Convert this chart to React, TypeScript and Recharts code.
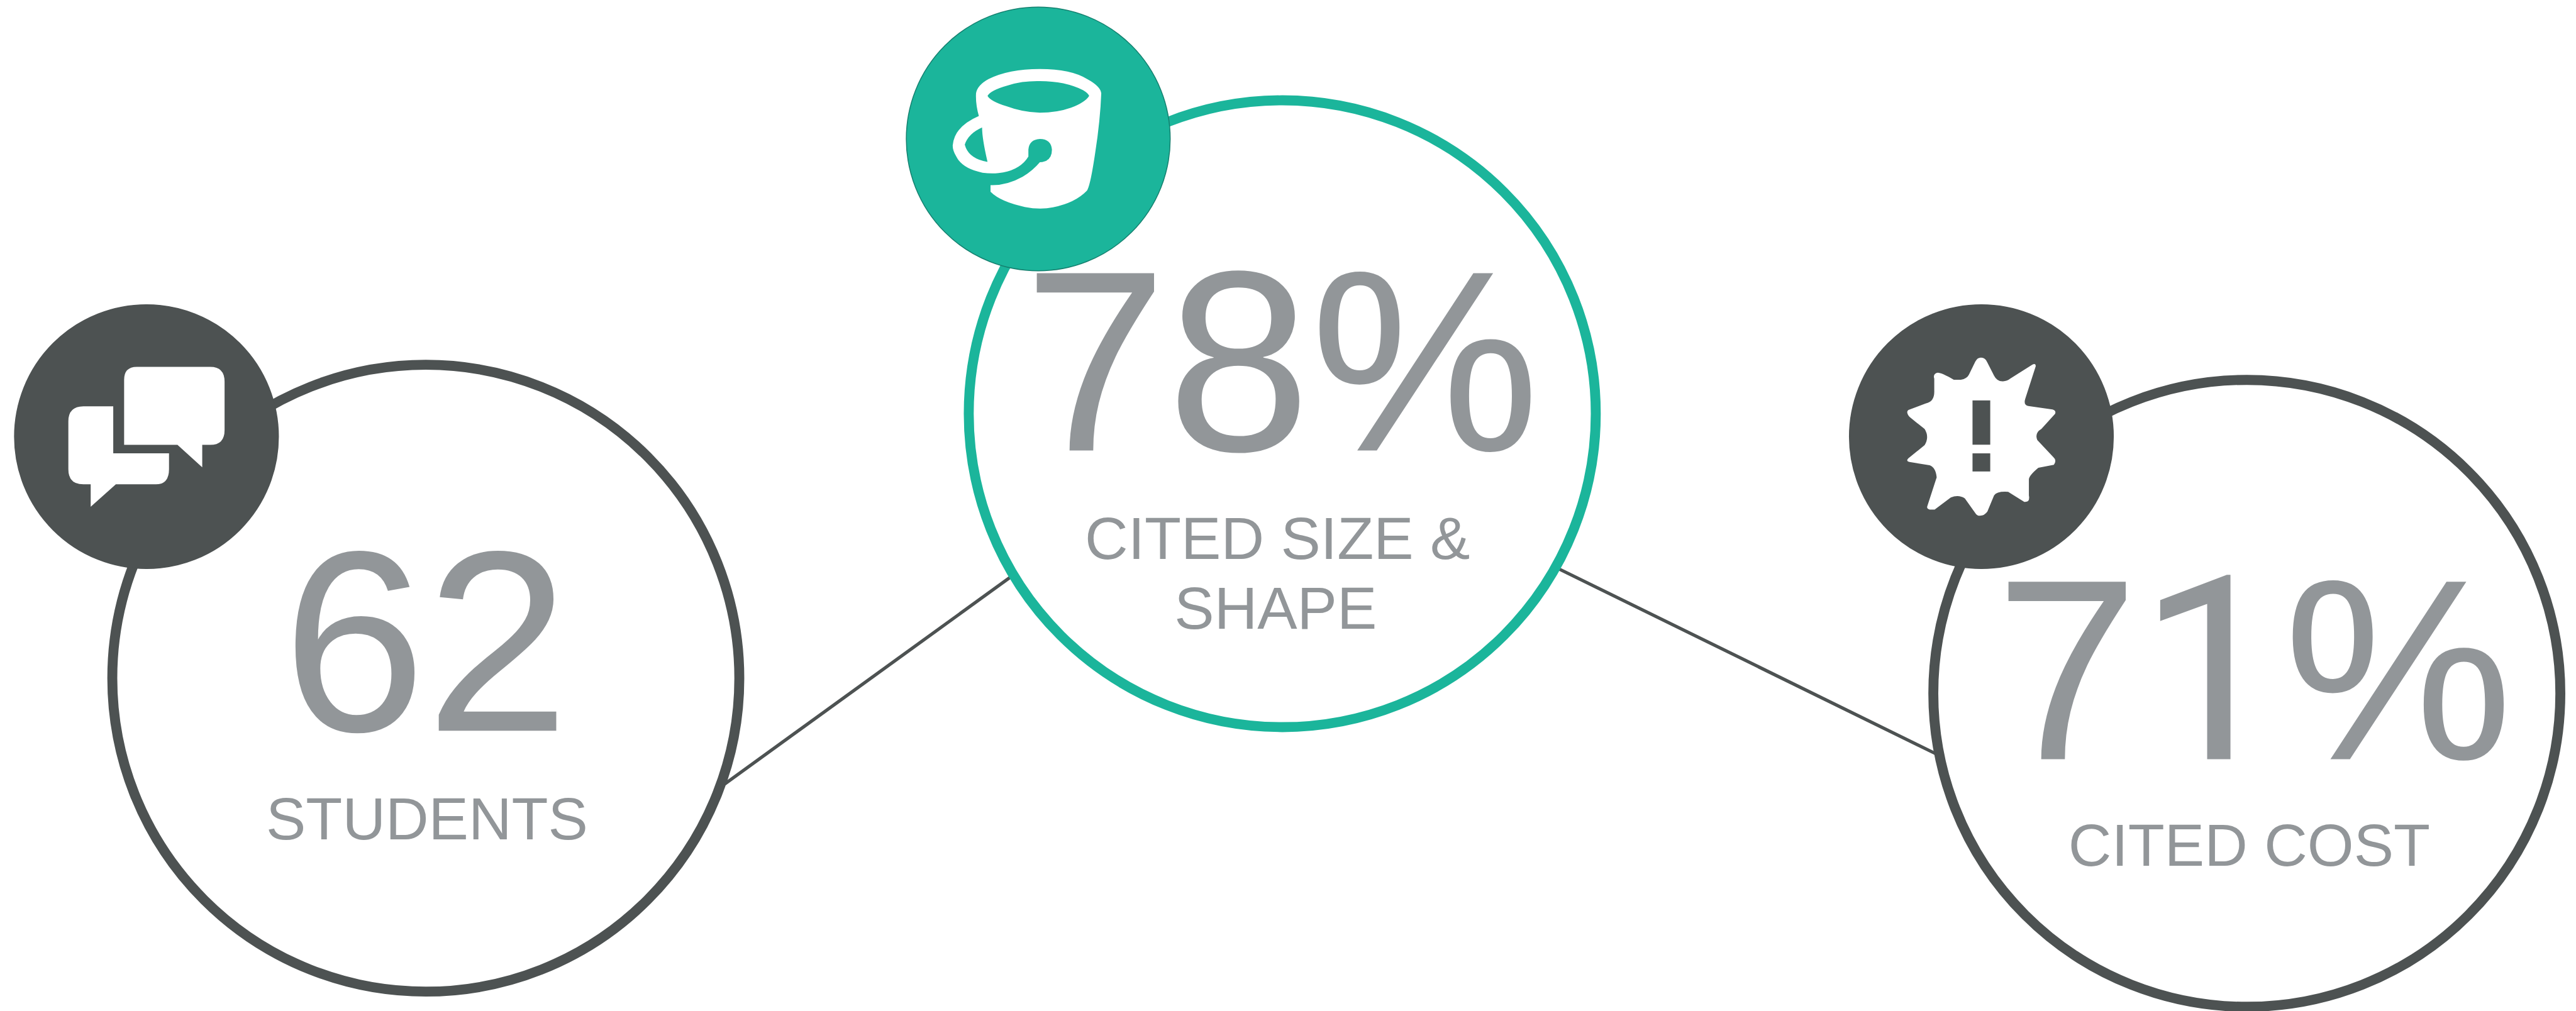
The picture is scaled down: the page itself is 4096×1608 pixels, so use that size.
import { Scatter, ScatterChart, XAxis, YAxis, ZAxis } from "recharts";

const CHART_W = 4096;
const CHART_H = 1608;
const DOMAIN_W = 4265;
const DOMAIN_H = 1674;
const UNIT = CHART_W / DOMAIN_W;

const TEAL = "#1bb59b";
const TEAL_EDGE = "#14806f";
const SLATE = "#4d5252";
const GREY = "#929699";

// the three survey stats
const statValues = [62, 78, 71];
const statUnits = ["", "%", "%"];
const ringColors = [SLATE, TEAL, SLATE];

// bubble centres, in domain units
const ringX = [705, 2123, 3720];
const ringY = [1123, 685, 1148];
const badgeX = [242.5, 1719, 3280.5];
const badgeY = [723, 230, 723];
const badgeIcons = ["chat", "bucket", "burst"];
const badgeColors = [SLATE, TEAL, SLATE];

const statX = [705, 2122, 3732];
const statBaseline = [1210, 746, 1257];

const captions = ["STUDENTS", "CITED SIZE &", "SHAPE", "CITED COST"];
const captionX = [707, 2115, 2112, 3724];
const captionBaseline = [1390, 926, 1041, 1433];

// connector ends sit under the rings
const linkA = { x: [1200, 1678], y: [1298, 952] };
const linkB = { x: [2575, 3207], y: [939, 1249] };

const toPoints = (xs: number[], ys: number[]) => xs.map((x, i) => ({ x, y: ys[i], i }));
const ringData = toPoints(ringX, ringY).map((d) => ({ ...d, z: 1 }));
const badgeData = toPoints(badgeX, badgeY).map((d) => ({ ...d, z: 1 }));
const statData = toPoints(statX, statBaseline);
const captionData = toPoints(captionX, captionBaseline);

const FONT = '"Liberation Sans", Arial, sans-serif';
// flagged "1" with no foot
const ONE_FONT = "Roboto, sans-serif";

function Ring(props: any) {
  const { cx, cy, width, payload } = props;
  return <circle cx={cx} cy={cy} r={width / 2} fill="#fff" stroke={ringColors[payload.i]} strokeWidth={15.8} />;
}

function ChatIcon() {
  return (
    <g transform="translate(-728 -698)" fill="#fff">
      <path d="M680 351H1045Q1116 351 1116 425V665Q1116 739 1045 739H1005V850L882 739H617V415Q617 351 680 351Z" />
      <path d="M415 547H563V781H840V860Q840 935 775 935H576L451 1046V935H415Q340 935 340 860V622Q340 547 415 547Z" />
    </g>
  );
}

function BucketIcon() {
  return (
    <g transform="translate(-717 -692)">
      <path
        fill="#fff"
        fillRule="evenodd"
        d="M408 465Q415 425 470 395Q570 345 725 345Q880 345 960 395Q1025 430 1030 465Q1025 600 1000 760Q975 930 958 950Q900 1010 790 1032Q725 1045 650 1030Q530 1005 480 955V922Q560 925 640 880Q690 850 725 808Q785 805 785 745Q780 692 725 692Q672 695 668 745V780Q625 850 520 862Q480 866 440 860Q340 840 310 780Q292 750 292 725Q300 630 422 578Q405 520 408 465Z
           M438 635Q370 665 352 720Q370 790 465 806Q438 690 438 635Z
           M465 478Q480 450 570 425Q640 403 725 405Q850 405 940 450Q965 465 970 478Q950 510 880 537Q810 562 725 562Q640 560 560 530Q480 505 465 478Z"
      />
    </g>
  );
}

function BurstIcon() {
  return (
    <g transform="translate(-722 -698)">
      <path
        fill="#fff"
        d="M720 305Q742 305 752 330L785 395Q800 425 830 423Q850 422 865 410L975 340Q992 332 992 348L940 510Q930 540 955 546L1075 563Q1095 568 1088 585L1020 660Q985 680 1000 715L1080 800Q1098 815 1082 838L1005 853Q960 890 958 910V990Q965 1025 935 1022L855 972Q800 968 785 990L752 1070Q735 1095 705 1090Q695 1085 690 1075L640 1005Q610 985 570 1000L490 1060H465Q450 1058 453 1045L500 900Q495 850 465 840L365 824Q345 818 360 805L440 740Q465 700 440 660L365 600Q345 575 360 565L445 533Q490 525 488 470V410Q480 385 505 380Q525 380 585 415H620Q650 410 660 390L692 325Q702 305 720 305Z"
      />
      <rect x={678} y={518} width={88} height={220} fill={SLATE} />
      <rect x={678} y={781} width={88} height={90} fill={SLATE} />
    </g>
  );
}

function Badge(props: any) {
  const { cx, cy, width, payload } = props;
  const icon = badgeIcons[payload.i];
  const fill = badgeColors[payload.i];
  return (
    <g>
      <circle cx={cx} cy={cy} r={width / 2} fill={fill} stroke={fill === TEAL ? TEAL_EDGE : fill} strokeWidth={1.5} />
      {/* icons are drawn at three times domain size */}
      <g transform={`translate(${cx} ${cy}) scale(${UNIT / 3})`}>
        {icon === "chat" && <ChatIcon />}
        {icon === "bucket" && <BucketIcon />}
        {icon === "burst" && <BurstIcon />}
      </g>
    </g>
  );
}

function StatText(props: any) {
  const { cx, cy, payload } = props;
  const chars = `${statValues[payload.i]}${statUnits[payload.i]}`.split("");
  return (
    <text x={cx} y={cy} textAnchor="middle" fontFamily={FONT} fontSize={410} fill={GREY}>
      {chars.map((c, i) => (
        <tspan key={i} fontFamily={c === "1" ? ONE_FONT : FONT}>
          {c}
        </tspan>
      ))}
    </text>
  );
}

function CaptionText(props: any) {
  const { cx, cy, payload } = props;
  return (
    <text x={cx} y={cy} textAnchor="middle" fontFamily={FONT} fontSize={95} fill={GREY}>
      {captions[payload.i]}
    </text>
  );
}

const Nothing = () => <g />;

export default function App() {
  return (
    <div style={{ position: "absolute", left: 0, top: 0, width: CHART_W, height: CHART_H, overflow: "hidden", background: "#fff" }}>
      <ScatterChart width={CHART_W} height={CHART_H} margin={{ top: 0, right: 0, bottom: 0, left: 0 }}>
        <XAxis type="number" dataKey="x" domain={[0, DOMAIN_W]} hide />
        <YAxis type="number" dataKey="y" domain={[0, DOMAIN_H]} reversed hide />
        <ZAxis zAxisId="ring" type="number" dataKey="z" range={[Math.PI * 498.5 * 498.5, Math.PI * 498.5 * 498.5]} />
        <ZAxis zAxisId="badge" type="number" dataKey="z" range={[Math.PI * 209.8 * 209.8, Math.PI * 209.8 * 209.8]} />

        <Scatter
          data={toPoints(linkA.x, linkA.y)}
          line={{ stroke: SLATE, strokeWidth: 5.2 }}
          shape={Nothing}
          isAnimationActive={false}
        />
        <Scatter
          data={toPoints(linkB.x, linkB.y)}
          line={{ stroke: SLATE, strokeWidth: 5.2 }}
          shape={Nothing}
          isAnimationActive={false}
        />
        <Scatter data={ringData} zAxisId="ring" shape={Ring} isAnimationActive={false} />
        <Scatter data={badgeData} zAxisId="badge" shape={Badge} isAnimationActive={false} />
        <Scatter data={statData} shape={StatText} isAnimationActive={false} />
        <Scatter data={captionData} shape={CaptionText} isAnimationActive={false} />
      </ScatterChart>
    </div>
  );
}
